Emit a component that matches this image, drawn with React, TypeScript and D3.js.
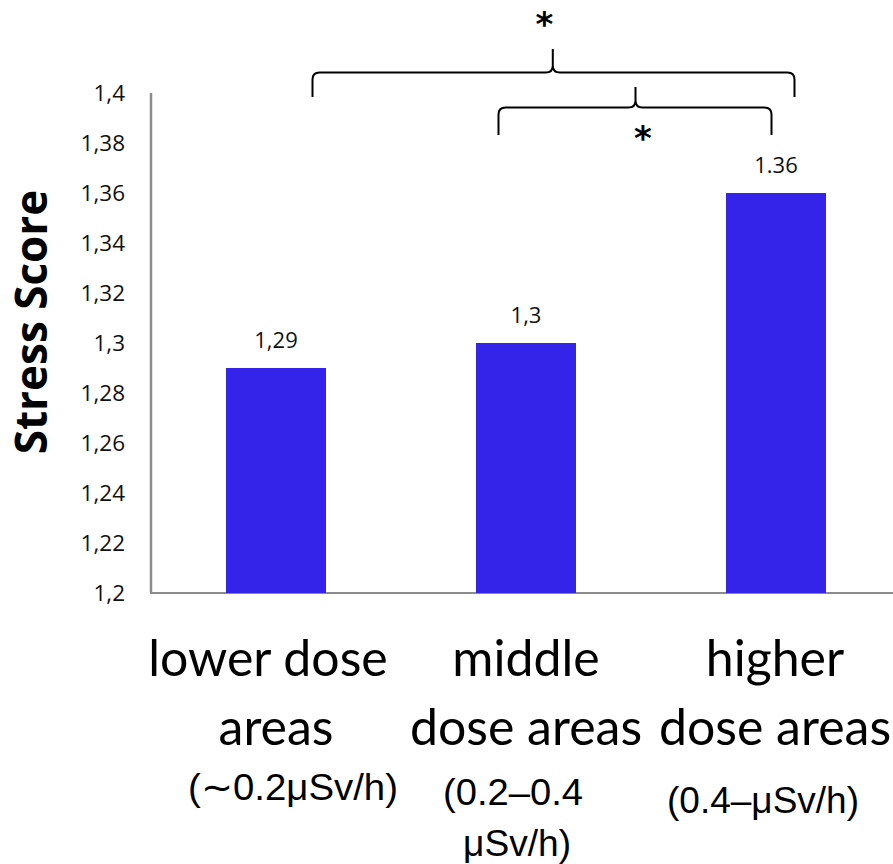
import React from "react";
import * as d3 from "d3";

const categories = ["lower", "middle", "higher"];
const values = [1.29, 1.3, 1.36];
const valueLabels = ["1,29", "1,3", "1.36"];
const yTicks = [1.2, 1.22, 1.24, 1.26, 1.28, 1.3, 1.32, 1.34, 1.36, 1.38, 1.4];
const tickLabels = ["1,2", "1,22", "1,24", "1,26", "1,28", "1,3", "1,32", "1,34", "1,36", "1,38", "1,4"];
const nameLines = [
  ["lower dose", "areas"],
  ["middle", "dose areas"],
  ["higher", "dose areas"],
];
const rangeLines = [["(\u223C0.2\u03BCSv/h)"], ["(0.2\u20130.4", "\u03BCSv/h)"], ["(0.4\u2013\u03BCSv/h)"]];

const W = 893;
const H = 864;

export default function App() {
  const y = d3.scaleLinear().domain([1.2, 1.4]).range([593, 93]);
  const x = d3.scaleBand().domain(categories).range([151, 901]).paddingInner(0.6).paddingOuter(0.3);
  const cx = (c: string) => (x(c) as number) + x.bandwidth() / 2;

  const brace = (x1: number, x2: number, yH: number, yEnd: number, px: number, py: number) => {
    const r = 7;
    return (
      `M${x1},${yEnd} L${x1},${yH + r} Q${x1},${yH} ${x1 + r},${yH} L${px - r},${yH} Q${px},${yH} ${px},${yH - r} L${px},${py}` +
      ` M${px},${yH - r} Q${px},${yH} ${px + r},${yH} L${x2 - r},${yH} Q${x2},${yH} ${x2},${yH + r} L${x2},${yEnd}`
    );
  };

  const c0 = cx(categories[0]);
  const c1 = cx(categories[1]);
  const c2 = cx(categories[2]);

  const nameOffsets = [[-8, 0], [0, 0], [-1, -1]];
  const rangeOffsets = [[17], [-13, -9], [-13]];
  const rangeY = [[800], [805, 856], [813]];
  const rangeW = [[210], [140, 108], [192]];

  return (
    <svg width={W} height={H} style={{ position: "absolute", left: 0, top: 0, background: "#fff" }}>
      {/* axes */}
      <line x1={151} x2={151} y1={y(1.4)} y2={y(1.2)} stroke="#8c8c8c" strokeWidth={2.5} />
      <line x1={150} x2={W} y1={y(1.2)} y2={y(1.2)} stroke="#8c8c8c" strokeWidth={2} />
      {yTicks.map((t, i) => (
        <text key={t} x={125} y={y(t)} dy="0.36em" textAnchor="end" fontFamily="'Open Sans', sans-serif" fontSize={22.5} fill="#111">
          {tickLabels[i]}
        </text>
      ))}
      {/* bars */}
      {categories.map((c, i) => (
        <rect key={c} x={x(c)} y={y(values[i])} width={x.bandwidth()} height={y(1.2) - y(values[i])} fill="#3423e8" />
      ))}
      {categories.map((c, i) => (
        <text key={c + "l"} x={cx(c)} y={y(values[i]) - 20} textAnchor="middle" fontFamily="'Open Sans', sans-serif" fontSize={22} fill="#111">
          {valueLabels[i]}
        </text>
      ))}
      {/* y title */}
      <text transform={`translate(47,322) rotate(-90)`} textAnchor="middle" fontFamily="'Open Sans', Lato, sans-serif" fontWeight="bold" fontSize={44} fill="#000">
        Stress Score
      </text>
      {/* category labels */}
      {categories.map((c, i) =>
        nameLines[i].map((ln, j) => (
          <text key={c + "n" + j} x={cx(c) + nameOffsets[i][j]} y={676 + j * 69} textAnchor="middle" fontFamily="Lato, sans-serif" fontSize={50} fill="#000">
            {ln}
          </text>
        ))
      )}
      {categories.map((c, i) =>
        rangeLines[i].map((ln, j) => (
          <text key={c + "r" + j} x={cx(c) + rangeOffsets[i][j]} y={rangeY[i][j]} textAnchor="middle" fontFamily="'Liberation Sans', Arial, sans-serif" fontSize={37}
            textLength={rangeW[i][j]} lengthAdjust="spacingAndGlyphs" fill="#000">
            {ln}
          </text>
        ))
      )}
      {/* significance braces */}
      <path d={brace(c0 + 36.5, c2 + 18.5, 72.5, 97, c0 + 276.8, 49)} fill="none" stroke="#000" strokeWidth={2} />
      <path d={brace(c1 - 27.5, c2 - 4.5, 107.5, 135, c1 + 109.5, 87)} fill="none" stroke="#000" strokeWidth={2} />
      <text x={c0 + 268.5} y={35.5} textAnchor="middle" fontFamily="'DejaVu Sans', sans-serif" fontWeight="bold" fontSize={34} fill="#000">*</text>
      <text x={c1 + 117} y={149.5} textAnchor="middle" fontFamily="'DejaVu Sans', sans-serif" fontWeight="bold" fontSize={34} fill="#000">*</text>
    </svg>
  );
}
